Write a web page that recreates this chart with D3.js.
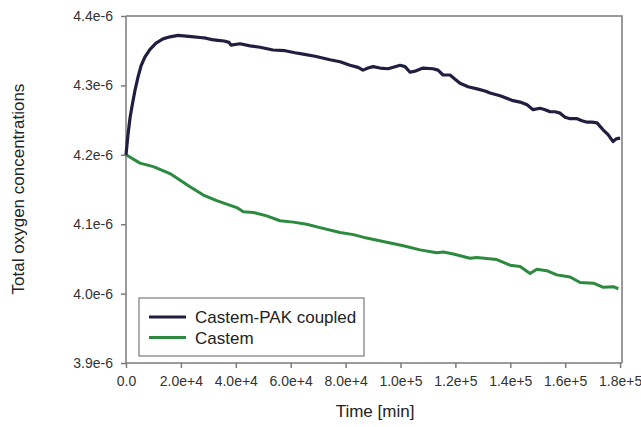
<!DOCTYPE html>
<html><head><meta charset="utf-8">
<script src="https://cdn.jsdelivr.net/npm/d3@7"></script>
<style>body{margin:0;background:#fff}svg{display:block;font-family:"Liberation Sans",Arial,sans-serif}</style>
</head><body>
<svg id="c" width="641" height="427"></svg>
<script>
const xTicks = [0,20000,40000,60000,80000,100000,120000,140000,160000,180000];
const xTickLabels = ["0.0","2.0e+4","4.0e+4","6.0e+4","8.0e+4","1.0e+5","1.2e+5","1.4e+5","1.6e+5","1.8e+5"];
const yTicks = [3.9e-6,4.0e-6,4.1e-6,4.2e-6,4.3e-6,4.4e-6];
const yTickLabels = ["3.9e-6","4.0e-6","4.1e-6","4.2e-6","4.3e-6","4.4e-6"];
const seriesNames = ["Castem-PAK coupled","Castem"];
const coupledTime = [0,730,1460,2190,3280,4370,5470,6920,8750,10930,13480,16030,18950,21860,24780,26960,29150,31340,33520,35710,37530,38260,41540,45180,48830,53560,57940,61580,64500,68870,74330,77980,81620,84540,86360,88180,90000,92550,95470,98020,99840,101660,103480,105670,108220,111860,113680,115510,118060,119880,121700,124620,127900,130810,132630,136280,141010,143570,146120,148300,150850,152670,154500,156320,158140,159960,161780,164330,166150,167980,169800,171620,172710,173810,175630,177450,178550,180000];
const coupledConc = [4.200e-6,4.229e-6,4.253e-6,4.270e-6,4.293e-6,4.312e-6,4.328e-6,4.341e-6,4.352e-6,4.361e-6,4.367e-6,4.370e-6,4.372e-6,4.371e-6,4.370e-6,4.369e-6,4.368e-6,4.366e-6,4.365e-6,4.364e-6,4.362e-6,4.358e-6,4.360e-6,4.357e-6,4.355e-6,4.351e-6,4.350e-6,4.347e-6,4.345e-6,4.342e-6,4.337e-6,4.334e-6,4.329e-6,4.326e-6,4.322e-6,4.325e-6,4.327e-6,4.325e-6,4.324e-6,4.327e-6,4.329e-6,4.327e-6,4.319e-6,4.321e-6,4.325e-6,4.324e-6,4.322e-6,4.315e-6,4.315e-6,4.309e-6,4.303e-6,4.298e-6,4.295e-6,4.292e-6,4.289e-6,4.285e-6,4.278e-6,4.276e-6,4.272e-6,4.265e-6,4.267e-6,4.265e-6,4.262e-6,4.262e-6,4.260e-6,4.254e-6,4.252e-6,4.252e-6,4.249e-6,4.247e-6,4.247e-6,4.246e-6,4.241e-6,4.236e-6,4.229e-6,4.219e-6,4.223e-6,4.224e-6];
const castemTime = [0,5100,9950,16030,23320,28170,33050,40340,42740,46380,51270,56110,60960,65840,70690,77980,82820,87710,94990,101040,107130,113210,115620,119260,125340,127780,135070,139920,143570,147210,149650,153290,156940,161780,165430,170270,173920,177560,179380];
const castemConc = [4.200e-6,4.188e-6,4.183e-6,4.173e-6,4.154e-6,4.142e-6,4.134e-6,4.124e-6,4.118e-6,4.117e-6,4.112e-6,4.105e-6,4.103e-6,4.100e-6,4.095e-6,4.088e-6,4.085e-6,4.080e-6,4.074e-6,4.069e-6,4.063e-6,4.059e-6,4.060e-6,4.057e-6,4.051e-6,4.052e-6,4.049e-6,4.041e-6,4.039e-6,4.029e-6,4.035e-6,4.033e-6,4.027e-6,4.024e-6,4.016e-6,4.015e-6,4.009e-6,4.010e-6,4.007e-6];

const L=126, R=622, T=16, B=363;
const svg = d3.select("#c");
const x = d3.scaleLinear().domain([0,180700]).range([L,R]);
const y = d3.scaleLinear().domain([3.9e-6,4.4e-6]).range([B,T]);
const axisColor = "#7a7a7a";

// frame top & right
svg.append("path").attr("d",`M${L},${T}H${R}V${B}`).attr("fill","none").attr("stroke",axisColor).attr("stroke-width",1.5);

const xa = svg.append("g").attr("transform",`translate(0,${B})`)
  .call(d3.axisBottom(x).tickValues(xTicks).tickSize(5).tickPadding(8).tickFormat((d,i)=>xTickLabels[i]));
const ya = svg.append("g").attr("transform",`translate(${L},0)`)
  .call(d3.axisLeft(y).tickValues(yTicks).tickSize(5).tickPadding(8).tickFormat((d,i)=>yTickLabels[i]));
[xa,ya].forEach(a=>{
  a.select(".domain").attr("stroke",axisColor).attr("stroke-width",1.5);
  a.selectAll(".tick line").attr("stroke",axisColor).attr("stroke-width",1.5);
  a.selectAll("text").attr("fill","#333").attr("font-size",14).attr("font-family","Liberation Sans, Arial, sans-serif");
});
ya.select(".domain").attr("d",`M0,${T}V${B}`);
xa.select(".domain").attr("d",`M${L},0H${R}`);

const colors = ["#211f40","#2b8a3e"];
const line = d3.line().x(d=>x(d[0])).y(d=>y(d[1]));
const s1 = coupledTime.map((t,i)=>[t,coupledConc[i]]);
const s2 = castemTime.map((t,i)=>[t,castemConc[i]]);
svg.append("path").datum(s2).attr("d",line).attr("fill","none").attr("stroke",colors[1]).attr("stroke-width",3).attr("stroke-linejoin","round");
svg.append("path").datum(s1).attr("d",line).attr("fill","none").attr("stroke",colors[0]).attr("stroke-width",3.2).attr("stroke-linejoin","round");

// legend
const lg = svg.append("g");
lg.append("rect").attr("x",139).attr("y",298).attr("width",225).attr("height",58).attr("fill","#fff").attr("stroke",axisColor).attr("stroke-width",1.2);
seriesNames.forEach((n,i)=>{
  const yy = 317 + i*20.5;
  lg.append("line").attr("x1",149).attr("x2",186).attr("y1",yy).attr("y2",yy).attr("stroke",colors[i]).attr("stroke-width",3);
  lg.append("text").attr("x",195).attr("y",yy+6).attr("font-size",17).attr("fill","#222").text(n);
});

// axis titles
svg.append("text").attr("x",375).attr("y",417).attr("text-anchor","middle").attr("font-size",17).attr("fill","#222").text("Time [min]");
svg.append("text").attr("transform",`translate(24,189) rotate(-90)`).attr("text-anchor","middle").attr("font-size",17).attr("fill","#222").text("Total oxygen concentrations");
</script>
</body></html>
